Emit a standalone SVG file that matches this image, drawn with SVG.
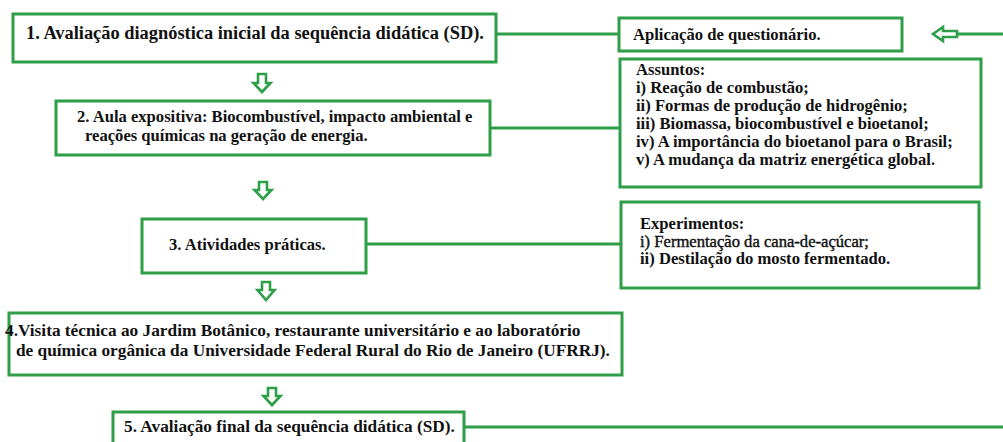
<svg xmlns="http://www.w3.org/2000/svg" width="1003" height="442" viewBox="0 0 1003 442">
<style>
.box{fill:#fff;stroke:#2e9e48;stroke-width:3}
.conn{fill:none;stroke:#2e9e48;stroke-width:3}
.arr{fill:#fff;stroke:#2e9e48;stroke-width:2.6;stroke-linejoin:miter}
.t18{font-size:18.4px}
.t17{font-size:17.3px}
.t16{font-size:16.6px}
.n{font-weight:normal;stroke:#111;stroke-width:0.4}
</style>
<rect width="1003" height="442" fill="#fff"/>
<g id="connectors">
<path class="conn" d="M496 34 H620"/>
<path class="conn" d="M490 128 H620"/>
<path class="conn" d="M366 244 H621"/>
<path class="conn" d="M464 427 H1003"/>
<path class="conn" d="M957 34 H1003"/>
<path class="arr" d="M933 34 L943 27 L943 31 L957 31 L957 37 L943 37 L943 41 Z"/>
<path class="arr" d="M258 74 H266 V83 H270.5 L262 92 L253.5 83 H258 Z"/>
<path class="arr" d="M259 182 H267 V190 H271.5 L263 199 L254.5 190 H259 Z"/>
<path class="arr" d="M262 282 H270 V290 H274.5 L266 300 L257.5 290 H262 Z"/>
<path class="arr" d="M268 388 H276 V396 H280.5 L272 405 L263.5 396 H268 Z"/>
</g>
<g font-family="Liberation Serif, Times New Roman, serif" font-weight="bold" fill="#111">
<g id="node1">
<rect class="box" x="13" y="14" width="483" height="48"/>
<text class="t18" x="26" y="39">1. Avaliação diagnóstica inicial da sequência didática (SD).</text>
</g>
<g id="node-questionario">
<rect class="box" x="619" y="18" width="283" height="33"/>
<text class="t16" x="633" y="40">Aplicação de questionário.</text>
</g>
<g id="node-assuntos">
<rect class="box" x="620" y="59" width="361" height="128"/>
<text class="t16" x="636" y="75">Assuntos:</text>
<text class="t16" x="636" y="93">i) Reação de combustão;</text>
<text class="t16" x="636" y="111">ii) Formas de produção de hidrogênio;</text>
<text class="t16" x="636" y="129">iii) Biomassa, biocombustível e bioetanol;</text>
<text class="t16" x="636" y="147">iv) A importância do bioetanol para o Brasil;</text>
<text class="t16" x="636" y="165">v) A mudança da matriz energética global.</text>
</g>
<g id="node2">
<rect class="box" x="56" y="101" width="434" height="54"/>
<text class="t16" x="77" y="122">2. Aula expositiva: Biocombustível, impacto ambiental e</text>
<text class="t16" x="85" y="141">reações químicas na geração de energia.</text>
</g>
<g id="node3">
<rect class="box" x="142" y="219" width="224" height="54"/>
<text class="t16" x="169" y="250">3. Atividades práticas.</text>
</g>
<g id="node-experimentos">
<rect class="box" x="621" y="202" width="358" height="86"/>
<text class="t16" x="640" y="229">Experimentos:</text>
<text class="t16 n" x="640" y="247">i) Fermentação da cana-de-açúcar;</text>
<text class="t16" x="640" y="264">ii) Destilação do mosto fermentado.</text>
</g>
<g id="node4">
<rect class="box" x="9" y="313" width="613" height="62"/>
<text class="t17" x="5" y="336">4.Visita técnica ao Jardim Botânico, restaurante universitário e ao laboratório</text>
<text class="t17" x="16" y="356">de química orgânica da Universidade Federal Rural do Rio de Janeiro (UFRRJ).</text>
</g>
<g id="node5">
<rect class="box" x="113" y="412" width="351" height="40"/>
<text class="t17" x="124" y="432">5. Avaliação final da sequência didática (SD).</text>
</g>
</g>
</svg>
